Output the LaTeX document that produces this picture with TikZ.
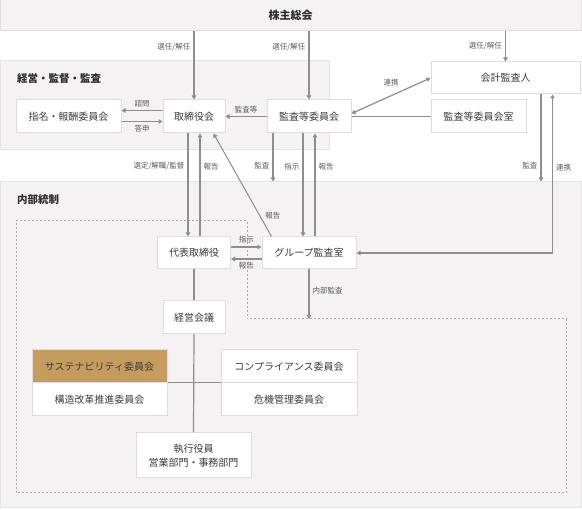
\documentclass[tikz,border=0pt]{standalone}
\usepackage{fontspec}
\setmainfont{Noto Sans CJK JP}
\usetikzlibrary{arrows.meta}

\definecolor{areaFill}{HTML}{F4F2F2}
\definecolor{areaLine}{HTML}{E6E4E4}
\definecolor{boxLine}{HTML}{DEDCDC}
\definecolor{lineGray}{HTML}{8E8E8E}
\definecolor{dotGray}{HTML}{ABABAB}
\definecolor{goldFill}{HTML}{C49D5E}
\definecolor{textGray}{HTML}{3C3C3C}
\definecolor{textDark}{HTML}{2E2E2E}
\definecolor{labelGray}{HTML}{5A5A5A}

\begin{document}
\begin{tikzpicture}
[x=1pt,y=-1pt,
  boxDecorate/.style={shape=rectangle,draw=boxLine,line width=1pt,inner sep=0pt,font=\fontsize{10}{14}\selectfont,text=textGray,align=center},%
  areaDecorate/.style={shape=rectangle,draw=areaLine,fill=areaFill,line width=1pt,inner sep=0pt},%
  titleDecorate/.style={font=\bfseries\fontsize{10.5}{12}\selectfont,text=textDark,inner sep=0pt,anchor=west},%
  arrowDecorate/.style={-{Triangle[length=4pt,width=4.5pt]},draw=lineGray,line width=1.2pt},%
  twoWayDecorate/.style={{Triangle[length=4pt,width=4.5pt]}-{Triangle[length=4pt,width=4.5pt]},draw=lineGray,line width=1.2pt},%
  lineDecorate/.style={-,draw=lineGray,line width=1.2pt},%
  dotDecorate/.style={draw=dotGray,line width=1pt,dash pattern=on 2pt off 2pt},%
  labelDecorate/.style={font=\fontsize{7.5}{9}\selectfont,text=labelGray,inner sep=3pt}]
\useasboundingbox (0,0) rectangle (582,510);
%% areas
\node (soukai) at (290.5,15.5) [areaDecorate,draw=boxLine,minimum width=581,minimum height=31,font=\bfseries\fontsize{11}{13}\selectfont,text=textDark] {株主総会};
\node (keieiArea) at (164.5,105.5) [areaDecorate,minimum width=329,minimum height=89] {};
\node (naibuArea) at (290.5,345) [areaDecorate,minimum width=581,minimum height=326] {};
\node (keieiTitle) at (17,79) [titleDecorate] {経営・監督・監査};
\node (naibuTitle) at (17,200) [titleDecorate] {内部統制};
%% scope of internal audit
\draw[dotDecorate] (16,221) -- (247,221) -- (247,319) -- (566,319) -- (566,493) -- (16,493) -- cycle;
\coordinate (scopeTop) at (309,319);
%% boxes
\foreach \nodename/\x/\y/\w/\h/\colour/\txt in {
  shimei/68.5/116.5/105/33/white/指名・報酬委員会,
  torishimari/194/116.5/62/33/white/取締役会,
  kansatou/309/116.5/84/33/white/監査等委員会,
  kaikei/505.5/78/149/32/white/会計監査人,
  kansashitsu/478.5/116.5/95/33/white/監査等委員会室,
  daihyo/194/253/73/32/white/代表取締役,
  group/309/253/94/32/white/グループ監査室,
  keiei/194/317.5/62/33/white/経営会議,
  sustain/99.5/366.5/135/33/goldFill/サステナビリティ委員会,
  kouzou/99.5/399.5/135/33/white/構造改革推進委員会,
  compliance/289/366.5/136/33/white/コンプライアンス委員会,
  kiki/289/399.5/136/33/white/危機管理委員会,
  shikkou/193.5/455.5/115/45/white/{執行役員\\営業部門・事務部門}}
{
  \node (\nodename) at (\x,\y) [boxDecorate,fill=\colour,minimum width=\w,minimum height=\h] {\txt};
}
%% appointment
\foreach \target/\where in {torishimari/0.23, kansatou/0.23, kaikei/0.5}
{
  \draw[arrowDecorate] (\target.north |- soukai.south) -- node[labelDecorate,anchor=east,pos=\where] {選任/解任} (\target.north);
}
%% board level
\draw[arrowDecorate] ([yshift=6pt]torishimari.west) -- node[labelDecorate,above] {諮問} ([yshift=6pt]shimei.east);
\draw[arrowDecorate] ([yshift=-5pt]shimei.east) -- node[labelDecorate,below] {答申} ([yshift=-5pt]torishimari.west);
\draw[arrowDecorate] (kansatou.west) -- node[labelDecorate,above] {監査等} (torishimari.east);
\draw[twoWayDecorate] ([yshift=3pt]kansatou.east) -- node[labelDecorate,above=6pt] {連携} (kaikei.west);
\draw[lineDecorate] (kansatou.east) -- (kansashitsu.west);
%% board to internal control
\draw[arrowDecorate] ([xshift=-6pt]torishimari.south) -- node[labelDecorate,anchor=east,pos=0.32] {選定/解職/監督} ([xshift=-6pt]daihyo.north);
\draw[arrowDecorate] ([xshift=6pt]daihyo.north) -- node[labelDecorate,anchor=west,pos=0.68] {報告} ([xshift=6pt]torishimari.south);
\draw[arrowDecorate,line width=1pt] ([xshift=10pt]group.north west) -- node[labelDecorate,anchor=west,pos=0.2,xshift=2pt] {報告} ([xshift=-12pt]torishimari.south east);
\draw[arrowDecorate] ([xshift=-36pt]kansatou.south) -- node[labelDecorate,anchor=east,pos=0.67] {監査} ([xshift=-36pt]kansatou.south |- naibuArea.north);
\draw[arrowDecorate] ([xshift=-6pt]kansatou.south) -- node[labelDecorate,anchor=east,pos=0.32] {指示} ([xshift=-6pt]group.north);
\draw[arrowDecorate] ([xshift=6pt]group.north) -- node[labelDecorate,anchor=west,pos=0.68] {報告} ([xshift=6pt]kansatou.south);
\draw[arrowDecorate] ([xshift=35.5pt]kaikei.south) -- node[labelDecorate,anchor=east,pos=0.82] {監査} ([xshift=35.5pt]kaikei.south |- naibuArea.north);
\draw[twoWayDecorate] ([xshift=47pt]kaikei.south) |- node[labelDecorate,anchor=west,pos=0.23] {連携} (group.east);
%% internal control
\draw[arrowDecorate] ([yshift=6pt]daihyo.east) -- node[labelDecorate,above] {指示} ([yshift=6pt]group.west);
\draw[arrowDecorate] ([yshift=-6pt]group.west) -- node[labelDecorate,below] {報告} ([yshift=-6pt]daihyo.east);
\draw[arrowDecorate] (group.south) -- node[labelDecorate,anchor=west,pos=0.42] {内部監査} (scopeTop);
\draw[lineDecorate] (daihyo.south) -- (keiei.north);
\draw[lineDecorate] (keiei.south) -- (shikkou.north);
\draw[lineDecorate] (kouzou.north east) -- (kiki.north west);
\end{tikzpicture}
\end{document}
